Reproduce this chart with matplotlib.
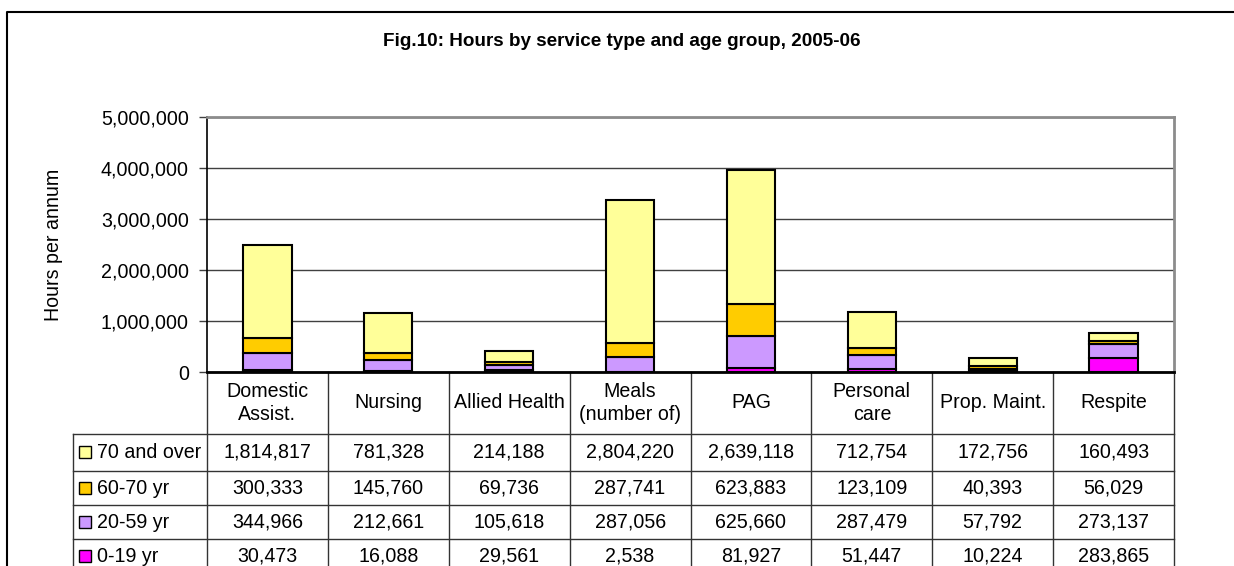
"""Fig.10 - Hours by service type and age group, 2005-06 (Excel-style stacked bars + data table)."""

import matplotlib
matplotlib.use("Agg")
import matplotlib.pyplot as plt
from matplotlib.patches import Rectangle
from matplotlib.transforms import blended_transform_factory
from matplotlib.ticker import FuncFormatter

plt.rcParams["font.family"] = ["Liberation Sans", "DejaVu Sans"]

# -------- data --------
services = ["Domestic\nAssist.", "Nursing", "Allied Health", "Meals\n(number of)",
            "PAG", "Personal\ncare", "Prop. Maint.", "Respite"]
age_0_19 = [30473, 16088, 29561, 2538, 81927, 51447, 10224, 283865]
age_20_59 = [344966, 212661, 105618, 287056, 625660, 287479, 57792, 273137]
age_60_70 = [300333, 145760, 69736, 287741, 623883, 123109, 40393, 56029]
age_70_over = [1814817, 781328, 214188, 2804220, 2639118, 712754, 172756, 160493]

series_names = ["0-19 yr", "20-59 yr", "60-70 yr", "70 and over"]
series_vals = [age_0_19, age_20_59, age_60_70, age_70_over]
colors = ["#FF00FF", "#CC99FF", "#FFCC00", "#FFFF99"]

y_ticks = [0, 1000000, 2000000, 3000000, 4000000, 5000000]

# -------- layout (pixels) --------
W, H = 1234, 566
ax_l, ax_r, ax_t, ax_b = 207, 1174, 117, 372
row_lines = [434, 471, 505, 539, 573]
leg_left = 73
fs = 14.1

fig = plt.figure(figsize=(W / 100, H / 100), dpi=100)

ov = fig.add_axes([0, 0, 1, 1], zorder=0)
ov.set_xlim(0, W)
ov.set_ylim(H, 0)
ov.set_axis_off()

ax = fig.add_axes([ax_l / W, (H - ax_b) / H, (ax_r - ax_l) / W, (ax_b - ax_t) / H],
                  zorder=1)
ax.set_facecolor("none")

# stacked bars, bottom series first
bottom = [0] * len(services)
x = list(range(len(services)))
for vals, c in zip(series_vals, colors):
    ax.bar(x, vals, width=0.4, bottom=bottom, color=c, edgecolor="black",
           linewidth=1.5, zorder=3)
    bottom = [b + v for b, v in zip(bottom, vals)]

ax.set_xlim(-0.5, len(services) - 0.5)
ax.set_ylim(0, 5000000)
ax.set_yticks(y_ticks)
ax.yaxis.set_major_formatter(FuncFormatter(lambda v, p: f"{int(v):,}"))
ax.tick_params(axis="y", direction="out", length=6, width=1, labelsize=fs,
               pad=7, color="#404040")
ax.tick_params(axis="x", bottom=False, labelbottom=False)
ax.grid(axis="y", color="#404040", linewidth=1.0, zorder=0)
ax.set_axisbelow(True)
for side in ["top", "right"]:
    ax.spines[side].set_color("#8c8c8c")
    ax.spines[side].set_linewidth(2)
ax.spines["left"].set_color("black")
ax.spines["left"].set_linewidth(1.2)
ax.spines["bottom"].set_color("black")
ax.spines["bottom"].set_linewidth(2)

# title, y label and outer border
ov.text(622, 41, "Fig.10: Hours by service type and age group, 2005-06",
        ha="center", va="center", fontsize=13.6, fontweight="bold")
ov.text(54, (ax_t + ax_b) / 2, "Hours per annum", rotation=90,
        ha="center", va="center", fontsize=fs)
ov.plot([7, 7, W], [H, 11.5, 11.5], color="black", lw=1.5)

# -------- data table --------
bt = blended_transform_factory(ax.transData, ov.transData)
lc = "#333333"
for i in range(len(services) + 1):
    ov.plot([i - 0.5, i - 0.5], [ax_b, H], color=lc, lw=1.0, transform=bt)
ov.plot([leg_left, leg_left], [row_lines[0], H], color=lc, lw=1.0)
for y in row_lines[:-1]:
    ov.plot([leg_left, ax_r], [y, y], color=lc, lw=1.0)

# header labels
for i, name in enumerate(services):
    ov.text(i, (ax_b + row_lines[0]) / 2, name, ha="center", va="center",
            fontsize=fs, linespacing=1.3, transform=bt)

# rows, top-down: 70 and over ... 0-19
for r, k in enumerate(reversed(range(len(series_names)))):
    yc = (row_lines[r] + row_lines[r + 1]) / 2
    ov.add_patch(Rectangle((79, yc - 6.5), 12, 12, facecolor=colors[k],
                           edgecolor="black", lw=1.0))
    ov.text(97, yc, series_names[k], ha="left", va="center", fontsize=fs)
    for i, v in enumerate(series_vals[k]):
        ov.text(i, yc, f"{v:,}", ha="center", va="center", fontsize=fs,
                transform=bt)

fig.savefig("out.png", dpi=100)
